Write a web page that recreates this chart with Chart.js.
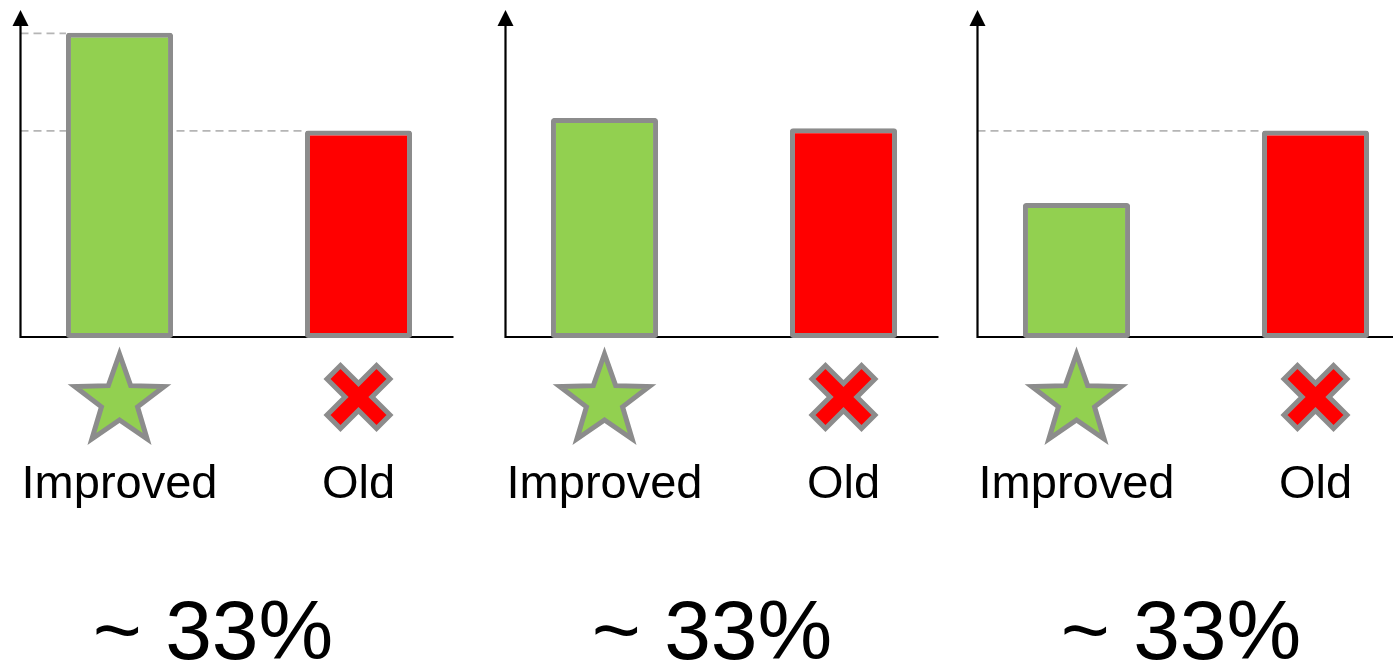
<!DOCTYPE html>
<html><head><meta charset="utf-8">
<script src="https://cdn.jsdelivr.net/npm/chart.js@4"></script>
<style>
html,body{margin:0;padding:0;background:#fff;overflow:hidden;}
#wrap{position:relative;width:1393px;height:664px;overflow:hidden;background:#fff;}
.panel{position:absolute;top:0;width:478px;height:664px;}
</style></head><body><div id="wrap"></div>
<script>
// ---- data ----
const categories = ['Improved', 'Old'];
const improvedValues = [147, 106, 65];
const oldValues = [100, 101, 100];
const captions = ['~ 33%', '~ 33%', '~ 33%'];
const guideBars = [[0, 1], [], [1]];   // bars that get a dashed reference line
// ---- layout ----
const panelLeft = [0, 485, 957];
const captionX = [213, 227, 224];
const Y_MAX = 158;
const GREEN = '#92d050', RED = '#ff0000', GRAY = '#8c8c8c';
const FONT = "'Liberation Sans', Arial, Helvetica, sans-serif";

function drawStar(ctx, cx, cy, R, r) {
  ctx.beginPath();
  for (let k = 0; k < 10; k++) {
    const rad = k % 2 === 0 ? R : r;
    const a = -Math.PI / 2 + k * Math.PI / 5;
    const x = cx + rad * Math.cos(a), y = cy + rad * Math.sin(a);
    k === 0 ? ctx.moveTo(x, y) : ctx.lineTo(x, y);
  }
  ctx.closePath();
}
function drawCross(ctx, cx, cy, L, w) {
  const pts = [[w,-L],[w,-w],[L,-w],[L,w],[w,w],[w,L],[-w,L],[-w,w],[-L,w],[-L,-w],[-w,-w],[-w,-L]];
  const c = Math.cos(Math.PI/4), s = Math.sin(Math.PI/4);
  ctx.beginPath();
  pts.forEach(([x,y], k) => {
    const X = cx + x*c - y*s, Y = cy + x*s + y*c;
    k === 0 ? ctx.moveTo(X, Y) : ctx.lineTo(X, Y);
  });
  ctx.closePath();
}

const decorPlugin = {
  id: 'decor',
  beforeDatasetsDraw(chart, args, opts) {
    const {ctx, chartArea, scales} = chart;
    const ax = chartArea.left + 20.5;
    const base = scales.y.getPixelForValue(0) - 1;
    const meta = chart.getDatasetMeta(0);
    ctx.save();
    ctx.strokeStyle = '#b5b5b5'; ctx.lineWidth = 1.8; ctx.setLineDash([8, 5]);
    opts.guides.forEach(i => {
      const bar = meta.data[i];
      const y = bar.y + 0.5;
      ctx.beginPath(); ctx.moveTo(ax, y); ctx.lineTo(bar.x - bar.width / 2, y); ctx.stroke();
    });
    ctx.restore();
    ctx.save();
    ctx.strokeStyle = '#000'; ctx.lineWidth = 2.2;
    ctx.beginPath();
    ctx.moveTo(ax, chartArea.top + 14); ctx.lineTo(ax, base); ctx.lineTo(ax + 433, base);
    ctx.stroke();
    ctx.fillStyle = '#000';
    ctx.beginPath();
    ctx.moveTo(ax, chartArea.top); ctx.lineTo(ax + 8, chartArea.top + 16); ctx.lineTo(ax - 8, chartArea.top + 16);
    ctx.closePath(); ctx.fill();
    ctx.restore();
  },
  afterDraw(chart, args, opts) {
    const {ctx, scales} = chart;
    const xs = chart.data.labels.map((_, i) => scales.x.getPixelForValue(i));
    ctx.save();
    ctx.lineWidth = 5; ctx.strokeStyle = GRAY; ctx.lineJoin = 'miter'; ctx.miterLimit = 10;
    drawStar(ctx, xs[0], 401, 47, 19);
    ctx.fillStyle = GREEN; ctx.fill(); ctx.stroke();
    drawCross(ctx, xs[1], 397, 35, 9.5);
    ctx.fillStyle = RED; ctx.fill(); ctx.stroke();
    ctx.fillStyle = '#000'; ctx.textAlign = 'center'; ctx.textBaseline = 'alphabetic';
    ctx.font = '47px ' + FONT;
    chart.data.labels.forEach((lab, i) => ctx.fillText(lab, xs[i], 498));
    ctx.font = '84px ' + FONT;
    ctx.fillText(opts.caption, opts.captionX, 659);
    ctx.restore();
  }
};

const wrap = document.getElementById('wrap');
panelLeft.forEach((left, p) => {
  const div = document.createElement('div');
  div.className = 'panel'; div.style.left = left + 'px';
  const cv = document.createElement('canvas');
  div.appendChild(cv); wrap.appendChild(div);
  new Chart(cv, {
    type: 'bar',
    data: {
      labels: categories,
      datasets: [{
        data: [improvedValues[p], oldValues[p]],
        backgroundColor: [GREEN, RED],
        borderColor: GRAY,
        borderWidth: 5,
        borderSkipped: false,
        borderRadius: 3,
        barPercentage: 0.448,
        categoryPercentage: 1
      }]
    },
    options: {
      responsive: true, maintainAspectRatio: false, animation: false,
      layout: { padding: { left: 0, right: 0, top: 10, bottom: 326 } },
      scales: {
        x: { display: false },
        y: { display: false, min: 0, max: Y_MAX }
      },
      plugins: {
        legend: { display: false }, tooltip: { enabled: false },
        decor: { guides: guideBars[p], caption: captions[p], captionX: captionX[p] }
      }
    },
    plugins: [decorPlugin]
  });
});
</script></body></html>
